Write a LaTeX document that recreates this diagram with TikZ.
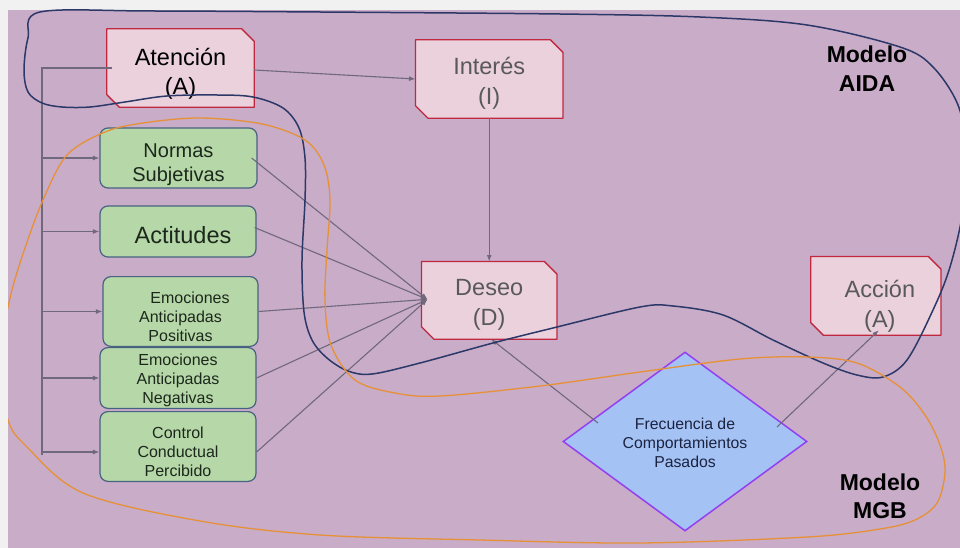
\documentclass[tikz,border=0pt]{standalone}
\usepackage{fontspec}
\setmainfont{Liberation Sans}
\usetikzlibrary{arrows.meta,calc,shapes.geometric}
\pgfdeclarelayer{canvas}
\pgfdeclarelayer{background}
\pgfsetlayers{canvas,background,main}

\definecolor{sheet}{RGB}{241,241,241}
\definecolor{slide}{RGB}{201,172,200}
\definecolor{pinkfill}{RGB}{234,209,220}
\definecolor{pinkline}{RGB}{192,40,64}
\definecolor{greenfill}{RGB}{182,215,168}
\definecolor{greenline}{RGB}{72,98,130}
\definecolor{greentext}{RGB}{28,40,28}
\definecolor{bluefill}{RGB}{164,194,244}
\definecolor{violetline}{RGB}{146,64,240}
\definecolor{bluetext}{RGB}{28,35,64}
\definecolor{linkgray}{RGB}{112,104,124}
\definecolor{aidaline}{RGB}{44,56,104}
\definecolor{mgbline}{RGB}{230,145,56}
\definecolor{greytext}{RGB}{89,89,89}

% vertical room above the first line and below the last line of a label
\newcommand{\txtTop}[1]{\rule{0pt}{#1pt}}
\newcommand{\txtBot}[1]{\rule[-#1pt]{0pt}{0pt}}

% pink stage box with two chamfered corners, drawn behind its node
\newcommand{\chamferbox}[1]{%
  \begin{pgfonlayer}{background}
    \filldraw[fill=pinkfill, draw=pinkline, line width=1.3pt, line join=round]
      (#1.north west) -- ([xshift=-12.5pt]#1.north east)
      -- ([yshift=-12.5pt]#1.north east) -- (#1.south east)
      -- ([xshift=12.5pt]#1.south west) -- ([yshift=12.5pt]#1.south west)
      -- cycle;
  \end{pgfonlayer}}

\begin{document}
\begin{tikzpicture}[x=1pt, y=-1pt,
  stagebox/.style={inner sep=0pt, align=center, text=greytext,
    font=\fontsize{23.5}{30}\selectfont},
  factorbox/.style={draw=greenline, fill=greenfill, line width=1.2pt,
    rounded corners=8pt, inner sep=0pt, align=center, text=greentext,
    minimum width=156pt},
  smalltext/.style={font=\fontsize{16}{19}\selectfont},
  habitbox/.style={diamond, aspect=1.36, draw=violetline, fill=bluefill,
    line width=1.5pt, inner sep=0pt, align=center, text=bluetext,
    minimum width=244pt, minimum height=179pt,
    font=\fontsize{15.8}{19}\selectfont},
  modellabel/.style={inner sep=0pt, align=center, text=black,
    font=\bfseries\fontsize{23}{29}\selectfont},
  link/.style={draw=linkgray, line width=1.1pt},
  arr/.style={link, -{Latex[length=6.5pt,width=5pt]}},
  aida/.style={draw=aidaline, line width=1.5pt},
  mgb/.style={draw=mgbline, line width=1.3pt}]

\useasboundingbox (0,0) rectangle (960,548);
\begin{pgfonlayer}{canvas}
  \fill[sheet] (0,0) rectangle (960,548);
  \fill[slide] (8,10) rectangle (960,548);
\end{pgfonlayer}

% AIDA stages
\node[stagebox, text=black, font=\fontsize{23.5}{29}\selectfont,
  minimum width=147pt, minimum height=78pt] (aten) at (180.5,68)
  {\txtTop{30.4}Atención\\(A)\txtBot{7}};
\chamferbox{aten}
\node[stagebox, minimum width=147pt, minimum height=78pt] (interes) at (489.2,79)
  {\txtTop{27.4}Interés\\(I)\txtBot{7}};
\chamferbox{interes}
\node[stagebox, minimum width=135pt, minimum height=77.3pt] (deseo) at (489.2,300.35)
  {\txtTop{26.7}Deseo\\(D)\txtBot{7}};
\chamferbox{deseo}
\node[stagebox, minimum width=129.7pt, minimum height=78.3pt] (accion) at (875.85,295.85)
  {\txtTop{40.7}\hspace*{8pt}Acción\\\hspace*{8pt}(A)\txtBot{7}};
\chamferbox{accion}

% MGB factors
\node[factorbox, minimum width=157pt, minimum height=52pt,
  font=\fontsize{20}{24}\selectfont] (normas) at (178.5,158)
  {\txtTop{30}Normas\\Subjetivas\txtBot{6}};
\node[factorbox, minimum height=51pt, font=\fontsize{23.5}{30}\selectfont]
  (act) at (178,231.5) {\txtTop{30.4}\hspace*{10pt}Actitudes\txtBot{7}};
\node[factorbox, smalltext, minimum width=155pt, minimum height=61pt]
  (emop) at (180.5,311.5)
  {\txtTop{27}\hspace*{19pt}Emociones\\Anticipadas\\Positivas\txtBot{4.8}};
\node[factorbox, smalltext, minimum height=52pt] (emon) at (178,378)
  {\txtTop{18}Emociones\\Anticipadas\\Negativas\txtBot{4.8}};
\node[factorbox, smalltext, minimum height=61pt] (ctrl) at (178,446.5)
  {\txtTop{27}Control\\Conductual\\Percibido\txtBot{4.8}};

\node[habitbox] (habito) at (685,441.5)
  {\txtTop{19}Frecuencia de\\Comportamientos\\Pasados\txtBot{4.8}};

% model labels
\node[modellabel] (aidaLbl) at (867,69.5) {\txtTop{23}Modelo\\AIDA\txtBot{7}};
\node[modellabel, font=\bfseries\fontsize{23}{28}\selectfont] (mgbLbl) at (880,496)
  {\txtTop{23}Modelo\\MGB\txtBot{7}};

% connectors
\coordinate (busTop) at (42,68);
\coordinate (busBot) at (42,455);
\coordinate (ctrlIn) at ([yshift=-5.5pt]ctrl.west);
\coordinate (ctrlOut) at ([yshift=-5.5pt]ctrl.east);
\coordinate (dIn) at ([xshift=6pt,yshift=1pt]deseo.west);
\coordinate (fOutD) at ($(habito.center)+(-87,-18.5)$);
\coordinate (fOutA) at ($(habito.center)+(92,-14.5)$);

\draw[link] ([xshift=5pt]aten.west) -- (busTop) -- (busBot);
\draw[arr] (busTop |- normas.west) -- (normas.west);
\draw[arr] (busTop |- act.west) -- (act.west);
\draw[arr] (busTop |- emop.west) -- (emop.west);
\draw[arr] (busTop |- emon.west) -- (emon.west);
\draw[arr] (busTop |- ctrlIn) -- (ctrlIn);

\draw[arr] ([yshift=-2pt]aten.east) -- (interes.west);
\draw[arr] (interes.south) -- (deseo.north);

\draw[arr] ([xshift=-6pt]normas.east) -- (dIn);
\draw[arr] ([xshift=-2pt,yshift=4pt]act.east) -- (dIn);
\draw[arr] (emop.east) -- (dIn);
\draw[arr] (emon.east) -- (dIn);
\draw[arr] (ctrlOut) -- (dIn);

\draw[arr] (fOutD) -- ([xshift=2pt]deseo.south);
\draw[arr] (fOutA) -- ([xshift=3pt,yshift=5pt]accion.south);

% model outlines
\begin{scope}
  \clip (8,10) rectangle (960,548);
  \draw[aida] plot[smooth cycle, tension=0.55] coordinates {
    (40,12) (28,38) (24,70) (28,92) (42,103) (62,107) (90,107) (125,102)
    (167,96) (217,95) (253,97) (283,108) (299,128) (305,158) (305,200)
    (302,260) (304,312) (312,340) (327,358) (348,371) (372,374) (420,363)
    (493,343) (553,328) (640,307) (673,306) (723,315) (773,340) (823,363)
    (857,375) (883,377) (907,360) (933,310) (950,267) (963,210) (966,150)
    (958,105) (933,67) (900,47) (807,25) (700,17) (560,14) (320,12) (150,11)};
  \draw[mgb] plot[smooth cycle, tension=0.55] coordinates {
    (12,290) (25,248) (43,200) (67,155) (105,132) (143,123) (200,118)
    (262,124) (305,140) (324,165) (330,200) (327,250) (325,300) (331,345)
    (355,380) (395,393) (440,396) (540,386) (640,372) (740,359) (807,357)
    (857,363) (900,387) (925,415) (940,445) (945,472) (937,503) (915,520)
    (880,529) (807,537) (640,543) (480,540) (320,535) (200,521) (83,493)
    (27,447) (8,420) (3,370) (4,330)};
\end{scope}
\end{tikzpicture}
\end{document}
